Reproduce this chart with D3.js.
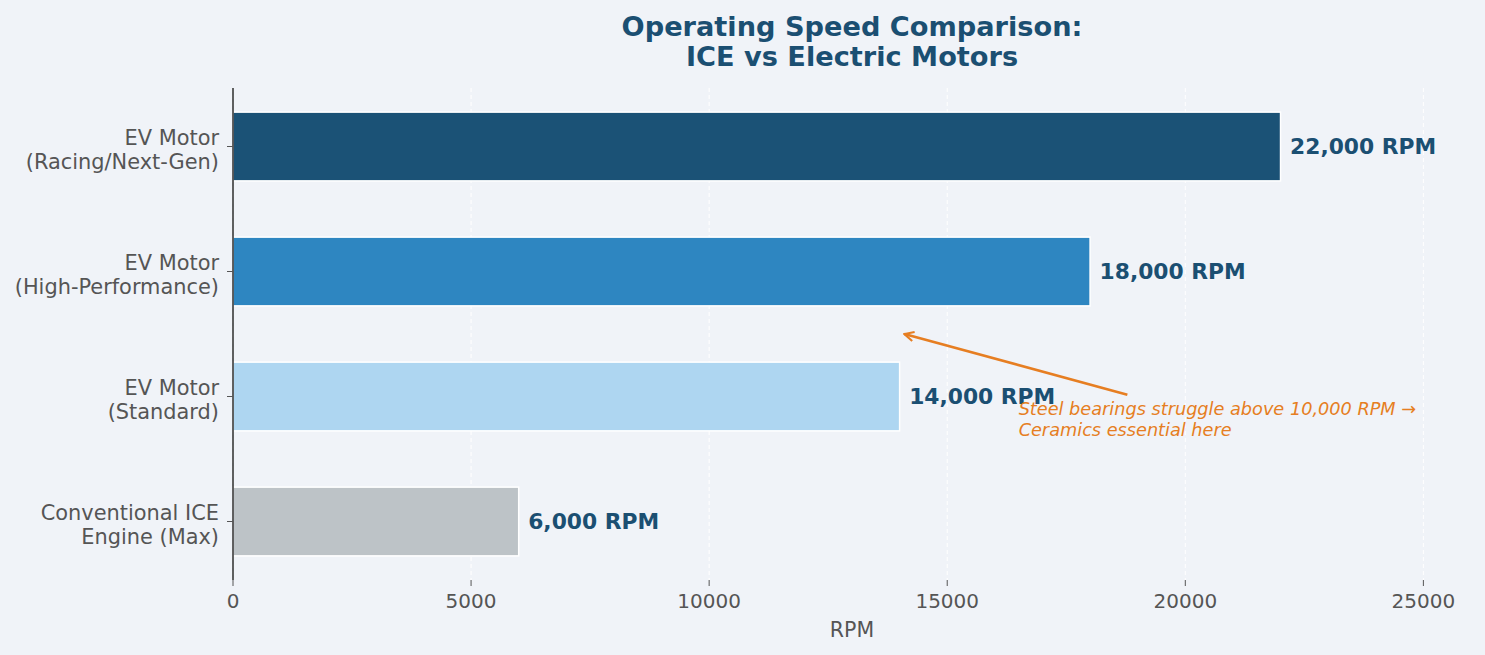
<!DOCTYPE html>
<html>
<head>
<meta charset="utf-8">
<script src="https://cdn.jsdelivr.net/npm/d3@7"></script>
<style>
  body { margin: 0; background: #f0f3f8; }
  text { font-family: "DejaVu Sans", sans-serif; }
</style>
</head>
<body>
<div id="chart"></div>
<script>
// data, bottom to top as drawn
var categories = ["Conventional ICE\nEngine (Max)", "EV Motor\n(Standard)", "EV Motor\n(High-Performance)", "EV Motor\n(Racing/Next-Gen)"];
var rpmValues = [6000, 14000, 18000, 22000];
var barColors = ["#bdc3c7", "#aed6f1", "#2e86c1", "#1b5276"];
var xTicks = [0, 5000, 10000, 15000, 20000, 25000];
var noteLines = ["Steel bearings struggle above 10,000 RPM \u2192", "Ceramics essential here"];

var svgWidth = 1485;
var svgHeight = 655;

var svg = d3.select("#chart")
    .append("svg")
    .attr("width", svgWidth)
    .attr("height", svgHeight);

svg.append("rect").attr("width", svgWidth).attr("height", svgHeight).attr("fill", "#f0f3f8");

var plotLeft = 233, plotRight = 1471, plotTop = 88, plotBottom = 580;

var x = d3.scaleLinear().domain([0, 26000]).range([plotLeft, plotRight]);
// continuous y like matplotlib barh: index 0 at bottom
var y = d3.scaleLinear().domain([-0.468, 3.468]).range([plotBottom, plotTop]);
var barH = y(0) - y(0.55);

// grid (dashed white, behind bars)
svg.append("g").selectAll("line")
    .data(xTicks)
    .enter().append("line")
    .attr("x1", d => x(d)).attr("x2", d => x(d))
    .attr("y1", plotTop).attr("y2", plotBottom)
    .attr("stroke", "#ffffff")
    .attr("stroke-width", 1.2)
    .attr("stroke-dasharray", "4,3")
    .attr("opacity", 0.9);

// bars
svg.append("g").selectAll("rect")
    .data(rpmValues)
    .enter().append("rect")
    .attr("x", x(0))
    .attr("y", (d, i) => y(i) - barH / 2)
    .attr("width", d => x(d) - x(0))
    .attr("height", barH)
    .attr("fill", (d, i) => barColors[i])
    .attr("stroke", "#ffffff")
    .attr("stroke-width", 1.5);

// value labels
svg.append("g").selectAll("text")
    .data(rpmValues)
    .enter().append("text")
    .attr("x", d => x(d + 200))
    .attr("y", (d, i) => y(i))
    .attr("dy", "0.35em")
    .attr("fill", "#1b4f72")
    .style("font-size", "21.8px")
    .style("font-weight", "bold")
    .text(d => d3.format(",")(d) + " RPM");

// left spine
svg.append("line")
    .attr("x1", plotLeft).attr("x2", plotLeft)
    .attr("y1", plotTop).attr("y2", plotBottom)
    .attr("stroke", "#2c2c2c").attr("stroke-width", 1.5);

// y ticks and labels
var yTickG = svg.append("g").selectAll("g")
    .data(categories)
    .enter().append("g")
    .attr("transform", (d, i) => `translate(${plotLeft}, ${y(i)})`);

yTickG.append("line")
    .attr("x1", -6).attr("x2", 0)
    .attr("stroke", "#555").attr("stroke-width", 1);

yTickG.each(function (d) {
    var lines = d.split("\n");
    var t = d3.select(this).append("text")
        .attr("text-anchor", "end")
        .attr("fill", "#555555")
        .style("font-size", "20.9px");
    lines.forEach(function (ln, k) {
        t.append("tspan")
            .attr("x", -14)
            .attr("y", 3 + (k - (lines.length - 1) / 2) * 23.5)
            .attr("dy", "0.35em")
            .text(ln);
    });
});

// x axis ticks (no spine)
var xTickG = svg.append("g").selectAll("g")
    .data(xTicks)
    .enter().append("g")
    .attr("transform", d => `translate(${x(d)}, ${plotBottom})`);

xTickG.append("line")
    .attr("y1", 0).attr("y2", 6)
    .attr("stroke", "#555").attr("stroke-width", 1);

xTickG.append("text")
    .attr("y", 21)
    .attr("dy", "0.35em")
    .attr("text-anchor", "middle")
    .attr("fill", "#555555")
    .style("font-size", "20px")
    .text(d => d);

svg.append("text")
    .attr("x", (plotLeft + plotRight) / 2)
    .attr("y", 630)
    .attr("dy", "0.35em")
    .attr("text-anchor", "middle")
    .attr("fill", "#555555")
    .style("font-size", "20.5px")
    .text("RPM");

// title
var title = svg.append("text")
    .attr("text-anchor", "middle")
    .attr("fill", "#1b4f72")
    .style("font-size", "27.2px")
    .style("font-weight", "bold");
["Operating Speed Comparison:", "ICE vs Electric Motors"].forEach(function (ln, k) {
    title.append("tspan")
        .attr("x", (plotLeft + plotRight) / 2)
        .attr("y", 26.5 + k * 30)
        .attr("dy", "0.35em")
        .text(ln);
});

// annotation
var noteX = 16500, noteY = 0.82;
var tipX = 14100, tipY = 1.5;
var note = svg.append("text")
    .attr("fill", "#e67e22")
    .style("font-size", "17.7px")
    .style("font-style", "italic");
noteLines.forEach(function (ln, k) {
    note.append("tspan")
        .attr("x", x(noteX))
        .attr("y", y(noteY) + (k - 0.5) * 21)
        .attr("dy", "0.35em")
        .text(ln);
});

var nb = note.node().getBBox();
var cx = nb.x + nb.width / 2, cy = nb.y + nb.height / 2;
var tx = x(tipX), ty = y(tipY);
// start where the line from tip to text center meets the padded text box top
var startY = nb.y - 4;
var tFrac = (startY - ty) / (cy - ty);
var sx = tx + (cx - tx) * tFrac;

svg.append("defs").append("marker")
    .attr("id", "arrowhead")
    .attr("viewBox", "0 0 10 10")
    .attr("refX", 9).attr("refY", 5)
    .attr("markerWidth", 4.5).attr("markerHeight", 4.5)
    .attr("orient", "auto-start-reverse")
    .append("path")
    .attr("d", "M1,1 L9,5 L1,9")
    .attr("fill", "none")
    .attr("stroke", "#e67e22")
    .attr("stroke-width", 1.8);

svg.append("line")
    .attr("x1", sx).attr("y1", startY)
    .attr("x2", tx).attr("y2", ty)
    .attr("stroke", "#e67e22")
    .attr("stroke-width", 2.6)
    .attr("marker-end", "url(#arrowhead)");
</script>
</body>
</html>
